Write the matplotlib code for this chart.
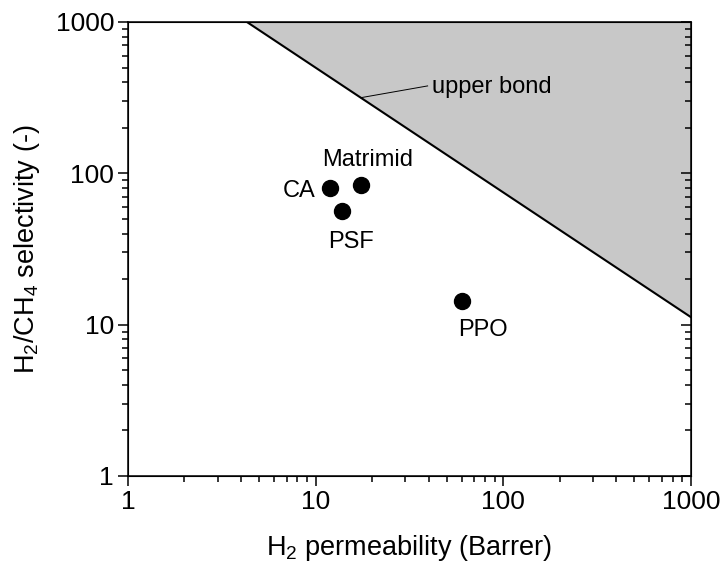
"""H2/CH4 selectivity vs H2 permeability (Robeson-type plot)."""
import matplotlib
matplotlib.use('Agg')
import matplotlib.pyplot as plt
import numpy as np

plt.rcParams['font.family'] = ['Liberation Sans', 'DejaVu Sans']
plt.rcParams['mathtext.fontset'] = 'custom'
plt.rcParams['mathtext.rm'] = 'Liberation Sans'
plt.rcParams['mathtext.it'] = 'Liberation Sans:italic'
plt.rcParams['mathtext.default'] = 'rm'

# ── data ──
polymers = ['CA', 'Matrimid', 'PSF', 'PPO']
permeability = [11.9, 17.4, 13.8, 60.2]      # Barrer
selectivity = [80.0, 83.7, 56.4, 14.3]       # H2/CH4 (-)

# upper bound end points
bound_x = [4.3, 1000.0]
bound_y = [1000.0, 11.2]

# label offsets (points), alignment
lbl_offset = {'CA': (-10, -6.5, 'right'), 'Matrimid': (5, 13.5, 'center'),
              'PSF': (6.5, -27, 'center'), 'PPO': (15, -25, 'center')}

FS = 19.5

fig = plt.figure(figsize=(7.24, 5.68), dpi=100)
ax = fig.add_axes([0.1768, 0.162, 0.7776, 0.7993])
ax.set_xscale('log')
ax.set_yscale('log')
ax.set_xlim(1, 1000)
ax.set_ylim(1, 1000)

# shaded region above the upper bound
ax.fill_between(bound_x, bound_y, [1000, 1000], facecolor='#c8c8c8', edgecolor='none', zorder=1)
ax.plot(bound_x, bound_y, color='black', lw=1.5, zorder=2)

# leader line + label
ax.plot([17.4, 39.5], [316, 378], color='black', lw=0.7, zorder=2)
ax.text(41.6, 372, 'upper bond', fontsize=17, va='center', ha='left', zorder=3)

ax.plot(permeability, selectivity, 'o', color='black', ms=11.5, zorder=4)
for name, x, y in zip(polymers, permeability, selectivity):
    dx, dy, ha = lbl_offset[name]
    ax.annotate(name, (x, y), textcoords='offset points', xytext=(dx, dy),
                ha=ha, va='baseline', fontsize=17)

for s in ax.spines.values():
    s.set_linewidth(1.1)
ax.tick_params(which='both', direction='out', top=False, right=False,
               labelsize=19, width=1.1, pad=3)
ax.tick_params(which='major', length=7)
ax.tick_params(which='minor', length=4)
ax.set_xticks([1, 10, 100, 1000])
ax.set_xticklabels(['1', '10', '100', '1000'])
ax.set_yticks([1, 10, 100, 1000])
ax.set_yticklabels(['1', '10', '100', '1000'])

# right side: inward ticks, no labels
ax2 = ax.twinx()
ax2.set_yscale('log')
ax2.set_ylim(1, 1000)
ax2.tick_params(which='both', direction='in', labelright=False, width=1.1)
ax2.tick_params(which='major', length=7)
ax2.tick_params(which='minor', length=4)
ax2.set_yticks([1, 10, 100, 1000])

ax.set_xlabel('H$_2$ permeability (Barrer)', fontsize=FS, labelpad=14)
ax.set_ylabel('H$_2$/CH$_4$ selectivity (-)', fontsize=FS, labelpad=10)

fig.savefig('out.png', dpi=100)
